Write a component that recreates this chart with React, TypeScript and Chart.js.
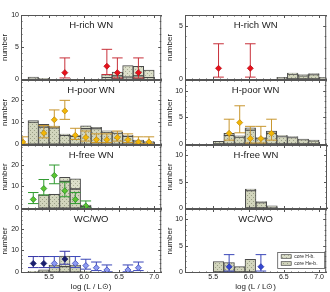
import React, { useEffect, useRef } from "react";
import { Chart, registerables } from "chart.js";

Chart.register(...registerables);

const FONT = "'Liberation Sans', Arial, Helvetica, sans-serif";

// histogram bin centres in log(L/Lsun), 0.15 dex bins
const binCenters = [5.125, 5.275, 5.425, 5.575, 5.725, 5.875, 6.025, 6.175, 6.325, 6.475, 6.625, 6.775, 6.925, 7.075];
const xTickValues = [5.5, 6.0, 6.5, 7.0];

// ---- histograms (lower part: core He-b., upper part: core H-b.)
const lRichHeB = [null, 0.3, 0.1, null, null, null, null, null, 0.2, 0.5, 0.3, 0.5, 0.2, null];
const lRichHB = [null, null, null, null, null, null, null, null, 0.5, 0.6, 1.8, 1.5, 1.2, null];
const lPoorHeB = [null, 10.0, 7.7, 7.4, 4.0, 3.5, 7.0, 7.0, 5.5, 5.0, 3.5, 1.5, 1.0, null];
const lPoorHB = [null, 0.7, 1.3, 0.8, 0.5, 0.5, 1.3, 0.6, 0.5, 0.6, 0.5, 0.3, 0.2, null];
const lFreeHeB = [null, null, 6.0, 6.3, 12.3, 8.8, 0.8, null, null, null, null, null, null, null];
const lFreeHB = [null, null, 0.2, 0.2, 1.9, 4.7, 0.6, null, null, null, null, null, null, null];
const lWcHeB = [null, 0.4, 1.0, 3.0, 2.5, 3.0, 0.4, null, null, null, null, null, null, null];
const lWcHB = [null, null, null, 0.2, 4.9, 0.2, null, null, null, null, null, null, null, null];

const rRichHeB = [null, null, null, null, null, null, null, null, null, 0.15, 0.45, 0.3, 0.4, 0.15];
const rRichHB = [null, null, null, null, null, null, null, null, null, null, 0.1, 0.1, 0.1, null];
const rPoorHeB = [null, null, null, 0.5, 1.6, 1.3, 2.6, 1.0, 2.0, 1.4, 1.2, 0.8, 0.6, null];
const rPoorHB = [null, null, null, null, 0.4, 0.2, 0.4, 0.2, 0.4, 0.2, 0.2, 0.1, 0.1, null];
const rFreeHeB = [null, null, null, null, null, null, 3.3, 1.0, 0.4, null, null, null, null, null];
const rFreeHB = [null, null, null, null, null, null, 0.3, 0.2, null, null, null, null, null, null];
const rWcHeB = [null, null, null, 2.0, 1.8, 1.0, 2.4, null, null, null, null, null, null, null];
const rWcHB = [null, null, null, null, null, null, null, null, null, null, null, null, null, null];

// ---- observed numbers with error bars
const lRichX = [5.725, 6.325, 6.475, 6.775];
const lRichY = [1, 2, 1, 1];
const lRichLo = [0.17, 0.71, 0.17, 0.17];
const lRichHi = [3.3, 4.64, 3.3, 3.3];

const rRichX = [5.575, 6.025];
const rRichY = [1, 1];
const rRichLo = [0.17, 0.17];
const rRichHi = [3.3, 3.3];

const lPoorX = [5.125, 5.425, 5.575, 5.725, 5.875, 6.025, 6.175, 6.325, 6.475, 6.625, 6.775, 6.925];
const lPoorY = [1, 5, 11, 15, 4, 3, 2, 2, 3, 2, 1, 1];
const lPoorLo = [0.17, 2.84, 7.75, 11.2, 2.09, 1.37, 0.71, 0.71, 1.37, 0.71, 0.17, 0.17];
const lPoorHi = [3.3, 8.38, 15.46, 19.8, 7.16, 5.92, 4.64, 4.64, 5.92, 4.64, 3.3, 3.3];

const rPoorX = [5.725, 5.875, 6.025, 6.175, 6.325];
const rPoorY = [2, 4, 1, 1, 2];
const rPoorLo = [0.71, 2.09, 0.17, 0.17, 0.71];
const rPoorHi = [4.64, 7.16, 3.3, 3.3, 4.64];

const lFreeX = [5.275, 5.425, 5.575, 5.725, 5.875, 6.025];
const lFreeY = [4, 9, 15, 8, 4, 1];
const lFreeLo = [2.09, 6.06, 11.2, 5.23, 2.09, 0.17];
const lFreeHi = [7.16, 13.14, 19.8, 11.95, 7.16, 3.3];

const lWcDarkX = [5.275, 5.425, 5.725];
const lWcDarkY = [4, 4, 6];
const lWcDarkLo = [2.09, 2.09, 3.62];
const lWcDarkHi = [7.16, 7.16, 9.58];

const lWcLightX = [5.575, 5.875, 6.025, 6.175, 6.325, 6.625, 6.775];
const lWcLightY = [4, 4, 3, 2, 1, 1, 2];
const lWcLightLo = [2.09, 2.09, 1.37, 0.71, 0.17, 0.17, 0.71];
const lWcLightHi = [7.16, 7.16, 5.92, 4.64, 3.3, 3.3, 4.64];

const rWcX = [5.725, 6.175];
const rWcY = [1, 1];
const rWcLo = [0.17, 0.17];
const rWcHi = [3.3, 3.3];

const titles = ["H-rich WN", "H-poor WN", "H-free WN", "WC/WO"];
const legendLabels = ["core H-b.", "core He-b."];

// ---- layout
const COL_LEFT = [0, 165];
const AXIS_W = [21, 20];
const PLOT_RIGHT = [163, 327];
const ROW_TOP = [15, 80, 145, 209];
const ROW_BOT = [80, 145, 209, 273];
const PAD = 8;
const XAXIS_H = 19;
const CAP = 0.075;

const RED = { fill: "#e8101a", edge: "#b8101a", line: "#c8303a" };
const ORANGE = { fill: "#f2b705", edge: "#c08a10", line: "#c8962e" };
const GREEN = { fill: "#5cc531", edge: "#2a8a2a", line: "#2f9a2f" };
const NAVY = { fill: "#1a1f6e", edge: "#1a1f6e", line: "#3535a5" };
const LIGHT = { fill: "#8e9cf2", edge: "#3a46b8", line: "#3a46b8" };
const BLUE = { fill: "#3347d0", edge: "#2a35a8", line: "#3a46b8" };

const panels = [
  { col: 0, row: 0, yMin: -0.15, yMax: 10, yTicks: [0, 5, 10], yMinor: 1, heB: lRichHeB, hB: lRichHB,
    pts: [{ x: lRichX, y: lRichY, lo: lRichLo, hi: lRichHi, ...RED }] },
  { col: 0, row: 1, yMin: -0.4, yMax: 29, yTicks: [0, 10, 20], yMinor: 2, heB: lPoorHeB, hB: lPoorHB,
    pts: [{ x: lPoorX, y: lPoorY, lo: lPoorLo, hi: lPoorHi, ...ORANGE }] },
  { col: 0, row: 2, yMin: -0.4, yMax: 29, yTicks: [0, 10, 20], yMinor: 2, heB: lFreeHeB, hB: lFreeHB,
    pts: [{ x: lFreeX, y: lFreeY, lo: lFreeLo, hi: lFreeHi, ...GREEN }] },
  { col: 0, row: 3, yMin: -0.4, yMax: 29, yTicks: [0, 10, 20], yMinor: 2, heB: lWcHeB, hB: lWcHB,
    pts: [
      { x: lWcLightX, y: lWcLightY, lo: lWcLightLo, hi: lWcLightHi, ...LIGHT },
      { x: lWcDarkX, y: lWcDarkY, lo: lWcDarkLo, hi: lWcDarkHi, ...NAVY },
    ] },
  { col: 1, row: 0, yMin: -0.1, yMax: 6, yTicks: [0, 5], yMinor: 1, heB: rRichHeB, hB: rRichHB,
    pts: [{ x: rRichX, y: rRichY, lo: rRichLo, hi: rRichHi, ...RED }] },
  { col: 1, row: 1, yMin: -0.2, yMax: 12, yTicks: [0, 5, 10], yMinor: 1, heB: rPoorHeB, hB: rPoorHB,
    pts: [{ x: rPoorX, y: rPoorY, lo: rPoorLo, hi: rPoorHi, ...ORANGE }] },
  { col: 1, row: 2, yMin: -0.2, yMax: 12, yTicks: [0, 5, 10], yMinor: 1, heB: rFreeHeB, hB: rFreeHB, pts: [] },
  { col: 1, row: 3, yMin: -0.2, yMax: 12, yTicks: [0, 5, 10], yMinor: 1, heB: rWcHeB, hB: rWcHB, legend: true,
    pts: [{ x: rWcX, y: rWcY, lo: rWcLo, hi: rWcHi, ...BLUE }] },
];

function makePattern(base: string, dot: string, shift: number) {
  const c = document.createElement("canvas");
  c.width = 4;
  c.height = 4;
  const g = c.getContext("2d")!;
  g.fillStyle = base;
  g.fillRect(0, 0, 4, 4);
  g.fillStyle = dot;
  g.fillRect(shift, 0, 1, 1);
  g.fillRect((shift + 2) % 4, 2, 1, 1);
  return g.createPattern(c, "repeat");
}

function PanelChart({ p }: { p: any }) {
  const ref = useRef<HTMLCanvasElement | null>(null);
  const left = COL_LEFT[p.col];
  const width = 165;
  const bottomRow = p.row === 3;
  const top = ROW_TOP[p.row] - PAD;
  const height = ROW_BOT[p.row] - ROW_TOP[p.row] + PAD + (bottomRow ? XAXIS_H : PAD);

  useEffect(() => {
    const canvas = ref.current!;
    const hePat = makePattern("#d2d5bd", "#9a9f86", 0);
    const hPat = makePattern("#dcdfca", "#a9ae96", 1);
    const errMap: Record<number, any> = {};
    const datasets: any[] = [
      {
        type: "bar", label: legendLabels[1], stack: "hist", order: 2,
        data: binCenters.map((x, i) => ({ x, y: p.heB[i] })),
        backgroundColor: hePat, borderColor: "#4a4a4a", borderWidth: 1, borderSkipped: false,
        barPercentage: 1, categoryPercentage: 1,
      },
      {
        type: "bar", label: legendLabels[0], stack: "hist", order: 2,
        data: binCenters.map((x, i) => ({ x, y: p.hB[i] })),
        backgroundColor: hPat, borderColor: "#4a4a4a", borderWidth: 1, borderSkipped: false,
        barPercentage: 1, categoryPercentage: 1,
      },
    ];
    p.pts.forEach((s: any, k: number) => {
      errMap[datasets.length] = s;
      datasets.push({
        type: "scatter", label: "obs" + k, stack: "pts" + k, order: 0,
        data: s.x.map((x: number, i: number) => ({ x, y: s.y[i] })),
        pointStyle: "rectRot", pointRadius: 3, pointHoverRadius: 3,
        backgroundColor: s.fill, borderColor: s.edge, borderWidth: 0.8,
      });
    });

    const deco = {
      id: "deco",
      beforeDatasetDraw(chart: any, args: any) {
        const s = errMap[args.index];
        if (!s) return;
        const { ctx, chartArea: a, scales } = chart;
        const xs = scales.x, ys = scales.y;
        ctx.save();
        ctx.beginPath();
        ctx.rect(a.left, a.top, a.right - a.left, a.bottom - a.top);
        ctx.clip();
        ctx.strokeStyle = s.line;
        ctx.lineWidth = 1;
        s.x.forEach((xv: number, i: number) => {
          const px = xs.getPixelForValue(xv);
          const c0 = xs.getPixelForValue(xv - CAP);
          const c1 = xs.getPixelForValue(xv + CAP);
          const yl = ys.getPixelForValue(s.lo[i]);
          const yh = ys.getPixelForValue(s.hi[i]);
          ctx.beginPath();
          ctx.moveTo(px, yl); ctx.lineTo(px, yh);
          ctx.moveTo(c0, yl); ctx.lineTo(c1, yl);
          ctx.moveTo(c0, yh); ctx.lineTo(c1, yh);
          ctx.stroke();
        });
        ctx.restore();
      },
      afterDatasetsDraw(chart: any) {
        const { ctx, chartArea: a, scales } = chart;
        const xs = scales.x, ys = scales.y;
        ctx.save();
        ctx.strokeStyle = "#3a3a3a";
        ctx.lineWidth = 1;
        // zero line
        const y0 = Math.round(ys.getPixelForValue(0)) + 0.5;
        ctx.beginPath();
        ctx.moveTo(a.left, y0); ctx.lineTo(a.right, y0);
        ctx.stroke();
        // frame
        ctx.strokeStyle = "#555";
        ctx.strokeRect(a.left + 0.5, a.top + 0.5, a.right - a.left - 1, a.bottom - a.top - 1);
        // x ticks (top and bottom, inward)
        ctx.beginPath();
        for (let k = 51; k <= 71; k++) {
          const px = Math.round(xs.getPixelForValue(k / 10)) + 0.5;
          const len = k % 5 === 0 ? 3 : 1.5;
          ctx.moveTo(px, a.bottom); ctx.lineTo(px, a.bottom - len);
          ctx.moveTo(px, a.top); ctx.lineTo(px, a.top + len);
        }
        // y ticks (left and right, inward)
        for (let v = 0; v <= p.yMax + 1e-9; v += p.yMinor) {
          const py = Math.round(ys.getPixelForValue(v)) + 0.5;
          const len = p.yTicks.includes(v) ? 3 : 1.5;
          ctx.moveTo(a.left, py); ctx.lineTo(a.left + len, py);
          ctx.moveTo(a.right, py); ctx.lineTo(a.right - len, py);
        }
        ctx.stroke();
        // panel title
        ctx.fillStyle = "#1a1a1a";
        ctx.font = `9.5px ${FONT}`;
        ctx.textAlign = "center";
        ctx.textBaseline = "middle";
        ctx.fillText(titles[p.row], (a.left + a.right) / 2, a.top + 10.5);
        // legend
        if (p.legend) {
          const bl = a.right - 49, bt = a.bottom - 21, bw = 47, bh = 16;
          ctx.fillStyle = "#fff";
          ctx.fillRect(bl, bt, bw, bh);
          ctx.strokeStyle = "#555";
          ctx.lineWidth = 0.8;
          ctx.strokeRect(bl + 0.5, bt + 0.5, bw, bh);
          const items = [datasets[1], datasets[0]];
          ctx.font = `5px ${FONT}`;
          ctx.textAlign = "left";
          items.forEach((d, i) => {
            const cy = bt + 4.5 + i * 7;
            ctx.fillStyle = d.backgroundColor;
            ctx.fillRect(bl + 4, cy - 1.8, 10, 3.6);
            ctx.strokeStyle = "#444";
            ctx.lineWidth = 0.7;
            ctx.strokeRect(bl + 4, cy - 1.8, 10, 3.6);
            ctx.fillStyle = "#222";
            ctx.fillText(d.label, bl + 17, cy + 0.3);
          });
        }
        ctx.restore();
      },
    };

    const chart = new Chart(canvas, {
      type: "bar",
      data: { datasets },
      options: {
        animation: false,
        responsive: false,
        maintainAspectRatio: false,
        devicePixelRatio: 1,
        events: [],
        layout: {
          padding: {
            left: 0,
            right: width - (PLOT_RIGHT[p.col] - left),
            top: PAD,
            bottom: bottomRow ? 0 : PAD,
          },
        },
        plugins: { legend: { display: false }, tooltip: { enabled: false }, title: { display: false } },
        scales: {
          x: {
            type: "linear", min: 5.1, max: 7.1, stacked: true, offset: false, display: bottomRow,
            afterBuildTicks: (s: any) => { s.ticks = xTickValues.map((v) => ({ value: v })); },
            afterFit: (s: any) => { s.height = bottomRow ? XAXIS_H : 0; },
            grid: { display: false, drawTicks: false, offset: false },
            border: { display: false },
            ticks: {
              font: { size: 7, family: FONT }, color: "#222", padding: 0, maxRotation: 0, autoSkip: false,
              callback: (v: any) => Number(v).toFixed(1),
            },
            title: { display: true, text: "log (L / L\u2299)", font: { size: 8, family: FONT }, color: "#222", padding: 0 },
          },
          y: {
            type: "linear", min: p.yMin, max: p.yMax, stacked: true,
            afterBuildTicks: (s: any) => { s.ticks = p.yTicks.map((v: number) => ({ value: v })); },
            afterFit: (s: any) => { s.width = AXIS_W[p.col]; },
            grid: { display: false, drawTicks: false },
            border: { display: false },
            ticks: { font: { size: 7, family: FONT }, color: "#222", padding: 2, autoSkip: false },
            title: { display: true, text: "number", font: { size: 8, family: FONT }, color: "#222", padding: 0 },
          },
        },
      },
      plugins: [deco],
    } as any);
    return () => chart.destroy();
  }, []);

  return (
    <canvas
      ref={ref}
      width={width}
      height={height}
      style={{ position: "absolute", left, top, width, height }}
    />
  );
}

export default function App() {
  return (
    <div style={{ position: "fixed", left: 0, top: 0, width: 330, height: 292, background: "#fff" }}>
      {panels.map((p, i) => (
        <PanelChart key={i} p={p} />
      ))}
    </div>
  );
}
